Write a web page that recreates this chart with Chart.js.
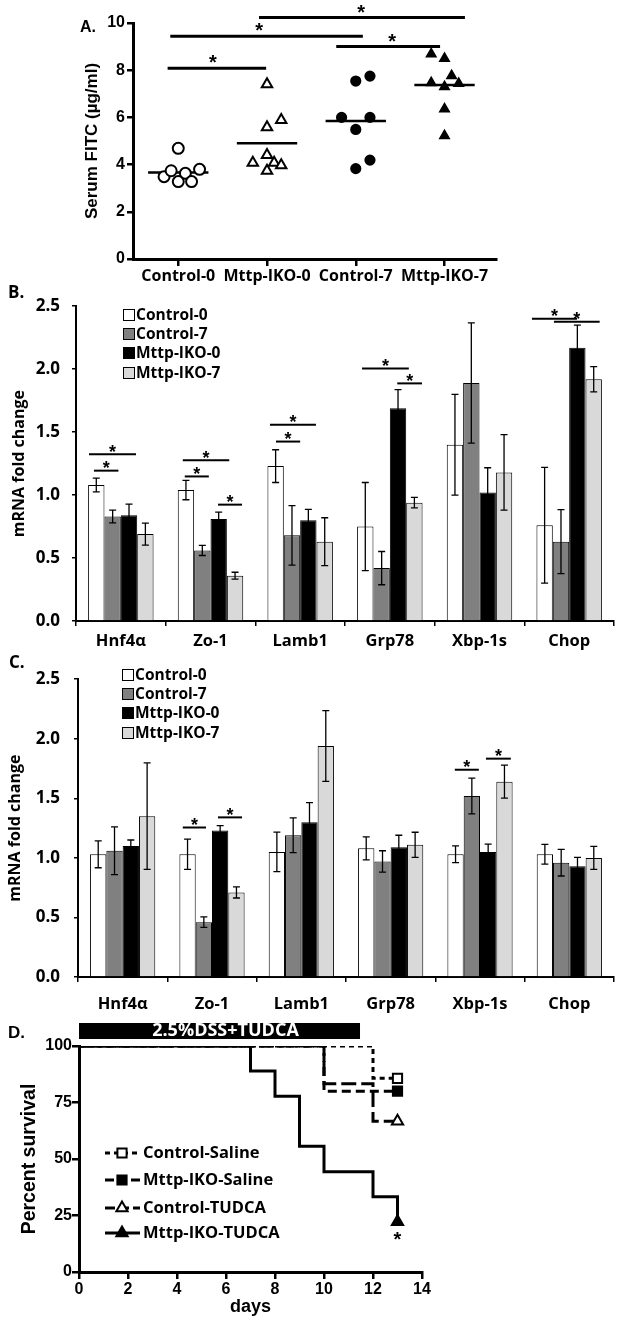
<!DOCTYPE html>
<html>
<head>
<meta charset="utf-8">
<title>Mttp-IKO: serum FITC, mRNA fold change and survival</title>
<script src="https://cdn.jsdelivr.net/npm/chart.js"></script>
<style>
  body { margin: 0; background: #fff; }
  #page { position: relative; width: 620px; height: 1323px; overflow: hidden; background: #fff; }
  canvas { position: absolute; left: 0; }
  .tag { position: absolute; line-height: 1; font-weight: bold; color: #000; }
</style>
</head>
<body>
<div id="page">
  <canvas id="chartA" width="620" height="292" style="top:0"></canvas>
  <canvas id="chartB" width="620" height="371" style="top:284px"></canvas>
  <canvas id="chartC" width="620" height="370" style="top:655px"></canvas>
  <canvas id="chartD" width="620" height="312" style="top:1011px"></canvas>
  <div class="tag" style="left:80px;top:19px;font-size:16px;font-family:'Liberation Sans',Arial,sans-serif">A.</div>
  <div class="tag" style="left:8px;top:283px;font-size:17px;font-family:'Open Sans',sans-serif">B.</div>
  <div class="tag" style="left:9px;top:653px;font-size:17px;font-family:'Open Sans',sans-serif">C.</div>
  <div class="tag" style="left:8px;top:1024px;font-size:17px;font-family:'Liberation Sans',Arial,sans-serif">D.</div>
</div>

<script>
// ---- A. serum FITC ----
const groupsA = ['Control-0', 'Mttp-IKO-0', 'Control-7', 'Mttp-IKO-7'];
const fitcControl0 = [4.69, 3.49, 3.74, 3.63, 3.80, 3.28, 3.28];
const jitterControl0 = [0, -0.16, -0.08, 0.08, 0.24, 0, 0.15];
const fitcMttp0 = [7.40, 5.58, 5.89, 4.41, 4.08, 4.08, 3.97, 3.74];
const jitterMttp0 = [0, 0, 0.16, 0, -0.16, 0.08, 0.16, 0];
const fitcControl7 = [7.54, 7.75, 6.00, 6.00, 5.49, 3.83, 4.19];
const jitterControl7 = [0, 0.16, -0.16, 0.16, 0, 0, 0.16];
const fitcMttp7 = [8.69, 8.50, 7.77, 7.47, 7.30, 7.44, 6.36, 5.22];
const jitterMttp7 = [-0.15, 0, 0.08, -0.15, 0, 0.16, 0, 0];
const medianA = [3.67, 4.90, 5.85, 7.37];
// significance bars: [from group, to group, height, star position]
const sigA = [[0.88, 1.99, 8.08, 1.39], [0.91, 3.08, 9.44, 1.91], [1.91, 4.23, 10.23, 3.06], [2.78, 3.95, 9.0, 3.41]];

// ---- B. / C. mRNA fold change ----
const genes = ['Hnf4α', 'Zo-1', 'Lamb1', 'Grp78', 'Xbp-1s', 'Chop'];
const seriesNames = ['Control-0', 'Control-7', 'Mttp-IKO-0', 'Mttp-IKO-7'];

const ctrl0B = [1.08, 1.04, 1.23, 0.75, 1.40, 0.76];
const ctrl7B = [0.83, 0.56, 0.68, 0.42, 1.89, 0.63];
const mttp0B = [0.84, 0.81, 0.80, 1.69, 1.02, 2.17];
const mttp7B = [0.69, 0.36, 0.63, 0.94, 1.18, 1.92];
const ctrl0BErr = [0.055, 0.077, 0.13, 0.35, 0.40, 0.46];
const ctrl7BErr = [0.05, 0.04, 0.236, 0.132, 0.478, 0.254];
const mttp0BErr = [0.088, 0.054, 0.087, 0.148, 0.197, 0.18];
const mttp7BErr = [0.087, 0.027, 0.19, 0.041, 0.30, 0.10];

const ctrl0C = [1.03, 1.03, 1.05, 1.08, 1.03, 1.03];
const ctrl7C = [1.06, 0.46, 1.19, 0.97, 1.52, 0.96];
const mttp0C = [1.10, 1.23, 1.30, 1.09, 1.05, 0.93];
const mttp7C = [1.35, 0.71, 1.94, 1.11, 1.64, 1.00];
const ctrl0CErr = [0.113, 0.127, 0.166, 0.097, 0.07, 0.083];
const ctrl7CErr = [0.2, 0.044, 0.146, 0.09, 0.15, 0.112];
const mttp0CErr = [0.05, 0.04, 0.164, 0.1, 0.066, 0.074];
const mttp7CErr = [0.447, 0.047, 0.297, 0.105, 0.138, 0.096];

// significance lines: [gene index, start, end (fraction of category), height]
const sigB = [
  [0, -0.355, 0.169, 1.325], [0, -0.299, -0.027, 1.194],
  [1, -0.309, 0.209, 1.276], [1, -0.287, -0.019, 1.148], [1, 0.084, 0.351, 0.924],
  [2, -0.337, 0.176, 1.558], [2, -0.27, 0.0, 1.425],
  [3, -0.31, 0.212, 2.005], [3, 0.083, 0.359, 1.887],
  [5, -0.415, 0.087, 2.40], [5, -0.17, 0.34, 2.377]
];
const sigC = [
  [1, -0.327, -0.067, 1.255], [1, 0.067, 0.336, 1.34],
  [4, -0.282, -0.013, 1.74], [4, 0.067, 0.345, 1.833]
];

// ---- D. survival ----
const survivalNames = ['Control-Saline', 'Mttp-IKO-Saline', 'Control-TUDCA', 'Mttp-IKO-TUDCA'];
const daysControlSaline = [0, 12, 13];
const pctControlSaline = [100, 85.7, 85.7];
const daysMttpSaline = [0, 10, 13];
const pctMttpSaline = [100, 80, 80];
const daysControlTudca = [0, 10, 12, 13];
const pctControlTudca = [100, 83.3, 66.7, 66.7];
const daysMttpTudca = [0, 7, 8, 9, 10, 12, 13];
const pctMttpTudca = [100, 88.9, 77.8, 55.6, 44.4, 33.3, 22.2];
const treatmentDays = [0, 11.47];
const treatmentLabel = '2.5%DSS+TUDCA';

const ARIAL = '"Liberation Sans", Arial, sans-serif';
const CALI = '"Open Sans", Lato, sans-serif';
Chart.defaults.color = '#000';
Chart.defaults.font.family = ARIAL;

const base = { responsive: false, animation: false, devicePixelRatio: 1 };
const noPlug = { legend: { display: false }, tooltip: { enabled: false } };

// ---------- A ----------
function scatterSet(values, jitter, g, style, fill, r) {
  return {
    data: values.map((v, i) => ({ x: g + jitter[i], y: v })),
    pointStyle: style, pointRadius: r, pointBackgroundColor: fill,
    pointBorderColor: '#000', pointBorderWidth: 2, showLine: false
  };
}
const setsA = [
  scatterSet(fitcControl0, jitterControl0, 1, 'circle', '#fff', 5.5),
  scatterSet(fitcMttp0, jitterMttp0, 2, 'triangle', '#fff', 6),
  scatterSet(fitcControl7, jitterControl7, 3, 'circle', '#000', 4.6),
  scatterSet(fitcMttp7, jitterMttp7, 4, 'triangle', '#000', 5)
].concat(medianA.map((m, i) => ({
  type: 'line', data: [{ x: i + 1 - 0.34, y: m }, { x: i + 1 + 0.34, y: m }],
  borderColor: '#000', borderWidth: 2.5, pointRadius: 0
})));

const sigPluginA = {
  id: 'sigA',
  afterDraw(chart) {
    const { ctx, scales: { x, y } } = chart;
    ctx.save();
    ctx.strokeStyle = '#000'; ctx.fillStyle = '#000'; ctx.lineWidth = 3;
    ctx.font = 'bold 20px ' + ARIAL; ctx.textAlign = 'center'; ctx.textBaseline = 'alphabetic';
    sigA.forEach(([a, b, v, s]) => {
      const py = y.getPixelForValue(v);
      ctx.beginPath(); ctx.moveTo(x.getPixelForValue(a), py); ctx.lineTo(x.getPixelForValue(b), py); ctx.stroke();
      ctx.fillText('*', x.getPixelForValue(s), py + 1);
    });
    ctx.restore();
  }
};

new Chart(document.getElementById('chartA'), {
  type: 'scatter',
  data: { datasets: setsA },
  options: Object.assign({}, base, {
    layout: { padding: { left: 0, right: 124, top: 23, bottom: 0 } },
    plugins: noPlug,
    scales: {
      x: {
        type: 'linear', min: 0.49, max: 4.58,
        afterBuildTicks: s => { s.ticks = groupsA.map((g, i) => ({ value: i + 1 })); },
        afterFit: s => { s.height = 33; },
        ticks: { callback: v => groupsA[v - 1], autoSkip: false, maxRotation: 0, padding: 1,
                 font: { family: CALI, size: 16, weight: 'bold' } },
        grid: { drawOnChartArea: false, tickLength: 7, color: '#000', lineWidth: 2.5 },
        border: { color: '#000', width: 3 }
      },
      y: {
        min: 0, max: 10,
        afterFit: s => { s.width = 133; },
        ticks: { stepSize: 2, padding: 2, font: { size: 16, weight: 'bold' } },
        grid: { drawOnChartArea: false, tickLength: 6, color: '#000', lineWidth: 2.5 },
        border: { color: '#000', width: 3 },
        title: { display: true, text: 'Serum FITC (µg/ml)', padding: { top: 82, bottom: 0 },
                 font: { size: 17, weight: 'bold' } }
      }
    }
  }),
  plugins: [sigPluginA]
});

// ---------- B & C ----------
const fills = ['#ffffff', '#808080', '#000000', '#d9d9d9'];

function barExtras(errs, sigs, legendX, legendY) {
  return {
    id: 'barExtras',
    afterDatasetsDraw(chart) {
      const { ctx, scales: { x, y } } = chart;
      ctx.save();
      ctx.strokeStyle = '#000'; ctx.fillStyle = '#000';
      ctx.lineWidth = 1.3;
      chart.data.datasets.forEach((ds, d) => {
        chart.getDatasetMeta(d).data.forEach((bar, i) => {
          const v = ds.data[i], e = errs[d][i];
          const t = y.getPixelForValue(v + e), b = y.getPixelForValue(v - e);
          ctx.beginPath();
          ctx.moveTo(bar.x, t); ctx.lineTo(bar.x, b);
          ctx.moveTo(bar.x - 3.5, t); ctx.lineTo(bar.x + 3.5, t);
          ctx.moveTo(bar.x - 3.5, b); ctx.lineTo(bar.x + 3.5, b);
          ctx.stroke();
        });
      });
      const catW = x.width / chart.data.labels.length;
      ctx.lineWidth = 2;
      ctx.font = 'bold 18px ' + ARIAL; ctx.textAlign = 'center'; ctx.textBaseline = 'alphabetic';
      sigs.forEach(([c, a, b, v]) => {
        const cx = x.getPixelForValue(c), py = y.getPixelForValue(v);
        const x1 = cx + a * catW, x2 = cx + b * catW;
        ctx.beginPath(); ctx.moveTo(x1, py); ctx.lineTo(x2, py); ctx.stroke();
        ctx.fillText('*', (x1 + x2) / 2, py + 3.5);
      });
      // legend
      ctx.font = 'bold 15.5px ' + CALI; ctx.textAlign = 'left'; ctx.textBaseline = 'middle';
      ctx.lineWidth = 1;
      chart.data.datasets.forEach((ds, d) => {
        const ly = legendY[d];
        ctx.fillStyle = ds.backgroundColor;
        ctx.fillRect(legendX + 0.5, ly - 5.5, 11, 11);
        ctx.strokeRect(legendX + 0.5, ly - 5.5, 11, 11);
        ctx.fillStyle = '#000';
        ctx.fillText(ds.label, legendX + 13, ly + 1);
      });
      ctx.restore();
    }
  };
}

function barChart(id, series, errs, sigs, o) {
  return new Chart(document.getElementById(id), {
    type: 'bar',
    data: {
      labels: genes,
      datasets: series.map((s, i) => ({
        label: seriesNames[i], data: s, backgroundColor: fills[i],
        borderColor: '#000', borderWidth: 1, categoryPercentage: 0.73, barPercentage: 1.0
      }))
    },
    options: Object.assign({}, base, {
      layout: { padding: { left: 0, right: o.right, top: o.top, bottom: 0 } },
      plugins: noPlug,
      scales: {
        x: {
          afterFit: s => { s.height = o.xHeight; },
          ticks: { padding: o.xPad, font: { family: CALI, size: 16.5, weight: 'bold' } },
          grid: { offset: true, drawOnChartArea: false, tickLength: 5, color: '#000', lineWidth: 1.5 },
          border: { color: '#000', width: 2 }
        },
        y: {
          min: 0, max: 2.5,
          afterFit: s => { s.width = o.left; },
          ticks: { stepSize: 0.5, padding: o.yPad, callback: v => v.toFixed(1),
                   font: { family: CALI, size: 17, weight: 'bold' } },
          grid: { drawOnChartArea: false, tickLength: 4, color: '#000', lineWidth: 1.5 },
          border: { color: '#000', width: 2 },
          title: { display: true, text: 'mRNA fold change', padding: { top: o.titlePad, bottom: 0 },
                   font: { family: CALI, size: 16, weight: 'bold' } }
        }
      }
    }),
    plugins: [barExtras(errs, sigs, o.legendX, o.legendY)]
  });
}

barChart('chartB', [ctrl0B, ctrl7B, mttp0B, mttp7B], [ctrl0BErr, ctrl7BErr, mttp0BErr, mttp7BErr], sigB,
  { left: 76, right: 6, top: 12, xHeight: 34, xPad: 5, yPad: 12, titlePad: 10, legendX: 123, legendY: [31, 50, 69, 89] });
barChart('chartC', [ctrl0C, ctrl7C, mttp0C, mttp7C], [ctrl0CErr, ctrl7CErr, mttp0CErr, mttp7CErr], sigC,
  { left: 78, right: 6, top: 9.5, xHeight: 48, xPad: 12, yPad: 14, titlePad: 6, legendX: 122, legendY: [20, 39, 58, 78] });

// ---------- D ----------
const survivalSeries = [
  { days: daysControlSaline, pct: pctControlSaline, dash: [5, 4], style: 'rect', fill: '#fff' },
  { days: daysMttpSaline, pct: pctMttpSaline, dash: [9, 5], style: 'rect', fill: '#000' },
  { days: daysControlTudca, pct: pctControlTudca, dash: [15, 5], style: 'triangle', fill: '#fff' },
  { days: daysMttpTudca, pct: pctMttpTudca, dash: [], style: 'triangle', fill: '#000' }
];

function marker(ctx, style, fill, x, y, r) {
  ctx.save();
  ctx.beginPath();
  if (style === 'rect') {
    const s = r * Math.SQRT1_2;
    ctx.rect(x - s, y - s, 2 * s, 2 * s);
  } else {
    ctx.moveTo(x, y - r);
    ctx.lineTo(x + r * 0.866, y + r / 2);
    ctx.lineTo(x - r * 0.866, y + r / 2);
    ctx.closePath();
  }
  ctx.fillStyle = fill; ctx.fill();
  ctx.lineWidth = 2; ctx.setLineDash([]); ctx.strokeStyle = '#000'; ctx.stroke();
  ctx.restore();
}

const survivalExtras = {
  id: 'survivalExtras',
  afterDraw(chart) {
    const { ctx, chartArea, scales: { x, y } } = chart;
    ctx.save();
    // treatment bar
    const x0 = x.getPixelForValue(treatmentDays[0]), x1 = x.getPixelForValue(treatmentDays[1]);
    ctx.fillStyle = '#000';
    ctx.fillRect(x0, chartArea.top - 23, x1 - x0, 16);
    ctx.fillStyle = '#fff';
    ctx.font = 'bold 18px ' + CALI; ctx.textAlign = 'center'; ctx.textBaseline = 'middle';
    ctx.fillText(treatmentLabel, (x0 + x1) / 2 + 6, chartArea.top - 15);
    // significance star
    ctx.fillStyle = '#000';
    ctx.font = 'bold 20px ' + ARIAL; ctx.textBaseline = 'alphabetic';
    ctx.fillText('*', x.getPixelForValue(13), y.getPixelForValue(22.2) + 24);
    // legend
    const rows = [142, 169, 197, 222];
    ctx.font = 'bold 16.5px ' + CALI; ctx.textAlign = 'left'; ctx.textBaseline = 'middle';
    survivalSeries.forEach((s, i) => {
      const ly = rows[i];
      ctx.strokeStyle = '#000'; ctx.lineWidth = 3;
      ctx.setLineDash(s.dash.length ? [Math.min(s.dash[0], 10), 4] : []);
      ctx.beginPath(); ctx.moveTo(105, ly); ctx.lineTo(140, ly); ctx.stroke();
      ctx.setLineDash([]);
      marker(ctx, s.style, s.fill, 122, ly, 6.5);
      ctx.fillStyle = '#000';
      ctx.fillText(survivalNames[i], 143, ly);
    });
    ctx.restore();
  }
};

new Chart(document.getElementById('chartD'), {
  type: 'line',
  data: {
    datasets: survivalSeries.map((s, i) => ({
      label: survivalNames[i],
      data: s.days.map((d, j) => ({ x: d, y: s.pct[j] })),
      stepped: 'before', borderColor: '#000', borderWidth: 3, borderDash: s.dash, fill: false,
      pointRadius: s.days.map((d, j) => j === s.days.length - 1 ? 6.5 : 0),
      pointStyle: s.style, pointBackgroundColor: s.fill, pointBorderColor: '#000', pointBorderWidth: 2
    }))
  },
  options: Object.assign({}, base, {
    layout: { padding: { left: 0, right: 198, top: 35, bottom: 0 } },
    plugins: noPlug,
    scales: {
      x: {
        type: 'linear', min: 0, max: 14,
        afterFit: s => { s.height = 51; },
        ticks: { stepSize: 2, padding: 1, font: { size: 16, weight: 'bold' } },
        grid: { drawOnChartArea: false, tickLength: 7, color: '#000', lineWidth: 2.5 },
        border: { color: '#000', width: 3 },
        title: { display: true, text: 'days', padding: { top: 0, bottom: 5 }, font: { size: 18, weight: 'bold' } }
      },
      y: {
        min: 0, max: 100,
        afterFit: s => { s.width = 79; },
        ticks: { stepSize: 25, padding: 0, font: { size: 16, weight: 'bold' } },
        grid: { drawOnChartArea: false, tickLength: 7, color: '#000', lineWidth: 2.5 },
        border: { color: '#000', width: 3 },
        title: { display: true, text: 'Percent survival', padding: { top: 18, bottom: 0 },
                 font: { size: 19.5, weight: 'bold' } }
      }
    }
  }),
  plugins: [survivalExtras]
});
</script>
</body>
</html>
